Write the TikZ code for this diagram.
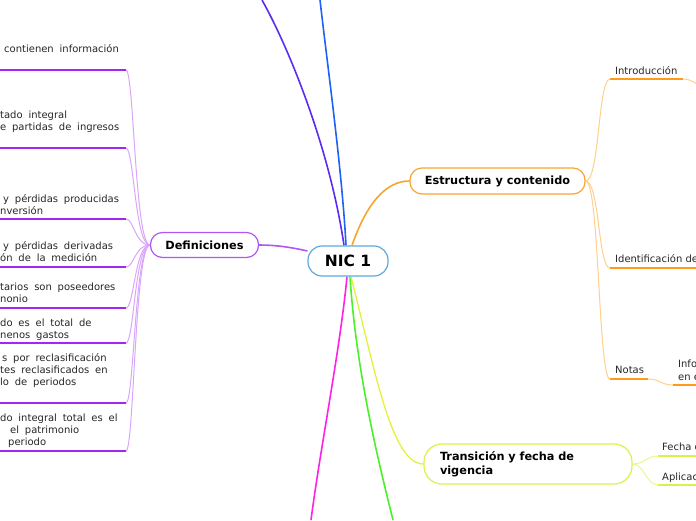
\documentclass[tikz,border=0pt]{standalone}
\usepackage{fontspec}
\setmainfont{DejaVu Sans}
\usetikzlibrary{positioning,backgrounds}

\definecolor{nicblue}{HTML}{5FA8DE}
\definecolor{defpurple}{HTML}{B155F5}
\definecolor{defunder}{HTML}{A526F2}
\definecolor{deflink}{HTML}{D9A6FA}
\definecolor{estorange}{HTML}{F7A531}
\definecolor{estunder}{HTML}{FF9A1A}
\definecolor{estlink}{HTML}{FFD08C}
\definecolor{transgreen}{HTML}{DCF04A}
\definecolor{translink}{HTML}{EAF78F}
\definecolor{violetline}{HTML}{5A2CF0}
\definecolor{blueline}{HTML}{1E62F5}
\definecolor{magentaline}{HTML}{FF22E6}
\definecolor{greenline}{HTML}{4CF02A}
\definecolor{yellowline}{HTML}{E2F23A}

\newcommand\leaffont{\fontsize{10}{12}\selectfont\spaceskip=0.58em\relax}
\newcommand\topicfont{\bfseries\fontsize{11.3}{13.5}\selectfont}

\tikzset{
  topic/.style={draw, line width=1.2pt, rounded corners=12pt, fill=white, font=\topicfont, inner sep=0pt},
  leaf/.style={font=\leaffont, align=left, inner sep=0pt, anchor=base west, text=black!85},
  rleaf/.style={leaf, font=\fontsize{10}{12.5}\selectfont},
  link/.style={line width=1pt},
  mainlink/.style={line width=1.6pt},
  uline/.style={line width=2pt},
}

\begin{document}
\begin{tikzpicture}[x=1pt, y=-1pt, line cap=round]
    \useasboundingbox (0,0) rectangle (696,520);
    \clip (0,0) rectangle (696,520);

    % central node and main topics
    \node[topic, draw=nicblue, minimum width=80pt, minimum height=30pt, rounded corners=14pt, font=\bfseries\fontsize{15.5}{18}\selectfont] (nic) at (348,261) {NIC 1};
    \node[topic, draw=defpurple, minimum width=108pt, minimum height=25pt] (defs) at (204.5,245) {Definiciones};
    \node[topic, draw=estorange, minimum width=175pt, minimum height=26pt] (estr) at (497.5,181) {Estructura y contenido};
    \node[topic, draw=transgreen, minimum width=208pt, minimum height=40pt, rounded corners=18pt, text width=176pt, align=left] (trans) at (528,464) {Transición y fecha de\\vigencia};

    % free ends at the border
    \coordinate (topA) at (262,0);
    \coordinate (topB) at (320,0);
    \coordinate (botA) at (311,520);
    \coordinate (botB) at (393,520);

    % leaves of Definiciones (base = last line)
    \node[leaf] (d1) at (4,52.5) {contienen información};
    \node[leaf] (d2) at (0,130.5) {tado integral\\e partidas de ingresos};
    \node[leaf] (d3) at (0,214.5) {\hspace*{3pt}y pérdidas producidas\\nversión};
    \node[leaf] (d4) at (0,261.5) {\hspace*{3pt}y pérdidas derivadas\\ón de la medición};
    \node[leaf] (d5) at (0,302.5) {tarios son poseedores\\nonio};
    \node[leaf] (d6) at (0,338.5) {do es el total de\\nenos gastos};
    \node[leaf] (d7) at (0,385.5) {\hspace*{2pt}s por reclasificación\\tes reclasificados en\\lo de periodos};
    \node[leaf] (d8) at (0,445.5) {do integral total es el\\\hspace*{10pt}el patrimonio\\\hspace*{8pt}periodo};
    \foreach \yy [count=\i] in {70,148,219,267,308,343,403,451}
        \coordinate (u\i) at (126,\yy);

    % leaves of Estructura y contenido
    \node[rleaf] (intro) at (615,74.5) {Introducción};
    \node[rleaf] (ident) at (615,262) {Identificación de};
    \node[rleaf] (notas) at (615,373.5) {Notas};
    \node[rleaf] (info) at (678,380) {Info\\en e};
    \coordinate (uintro) at (610,79);
    \coordinate (eintro) at (683,79);
    \coordinate (uident) at (610,268);
    \coordinate (unotas) at (610,379);
    \coordinate (enotas) at (648,379);
    \coordinate (uinfo) at (673,385);

    % leaves of Transicion
    \node[rleaf] (fecha) at (662,450.5) {Fecha d};
    \node[rleaf] (aplic) at (662,480.5) {Aplicac};
    \coordinate (ufecha) at (658,456);
    \coordinate (uaplic) at (658,485);

    \begin{scope}[on background layer]
        % main branches
        \draw[mainlink, violetline] ([xshift=-4pt]nic.north) .. controls (330,150) and (290,50) .. (topA);
        \draw[mainlink, blueline] ([xshift=-2pt]nic.north) .. controls (342,170) and (328,70) .. (topB);
        \draw[mainlink, estorange] ([xshift=4pt]nic.north) .. controls (366,205) and (385,181) .. (estr.west);
        \draw[mainlink, defpurple] ([yshift=10pt]nic.west) .. controls (290,247) and (275,245) .. (defs.east);
        \draw[mainlink, magentaline] ([xshift=-1pt]nic.south) .. controls (340,350) and (320,450) .. (botA);
        \draw[mainlink, greenline] ([xshift=2pt]nic.south) .. controls (356,370) and (378,460) .. (botB);
        \draw[line width=1.3pt, yellowline] ([xshift=3pt]nic.south) .. controls (376,375) and (392,464) .. (trans.west);

        % Definiciones
        \foreach \i in {1,...,8} {
            \draw[link, deflink] (defs.west) .. controls +(-15,0) and +(8,0) .. (u\i);
            \draw[uline, defunder] (u\i) -- ++(-130,0);
        }

        % Estructura y contenido
        \draw[link, estlink] (estr.east) .. controls +(14,0) and +(-12,0) .. (uintro);
        \draw[link, estlink] (estr.east) .. controls +(14,0) and +(-12,0) .. (uident);
        \draw[link, estlink] (estr.east) .. controls +(14,0) and +(-12,0) .. (unotas);
        \draw[uline, estunder] (uintro) -- (eintro);
        \draw[link, estlink] (eintro) .. controls +(8,0) and +(-3,-2) .. (700,86);
        \draw[uline, estunder] (uident) -- ++(90,0);
        \draw[uline, estunder] (unotas) -- (enotas);
        \draw[link, estlink] (enotas) .. controls +(12,0) and +(-12,0) .. (uinfo);
        \draw[uline, estunder] (uinfo) -- ++(30,0);

        % Transicion y fecha de vigencia
        \draw[link, translink] (trans.east) .. controls +(12,0) and +(-12,0) .. (ufecha);
        \draw[link, translink] (trans.east) .. controls +(12,0) and +(-12,0) .. (uaplic);
        \draw[uline, transgreen] (ufecha) -- ++(45,0);
        \draw[uline, transgreen] (uaplic) -- ++(45,0);
    \end{scope}
\end{tikzpicture}
\end{document}
